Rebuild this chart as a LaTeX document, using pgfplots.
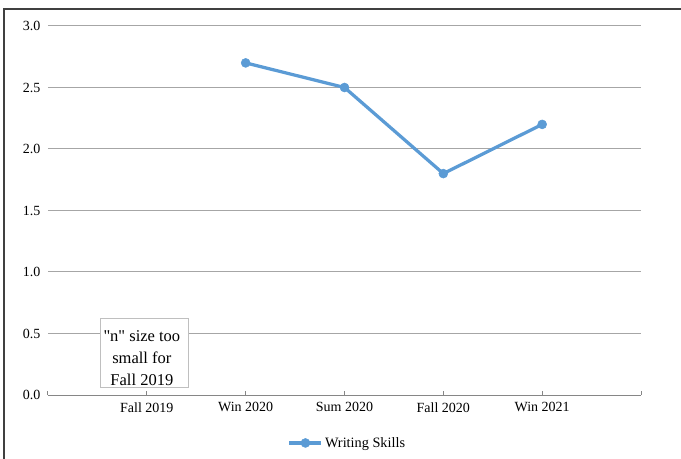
\documentclass[border=0pt]{standalone}
\usepackage{pgfplots}
\pgfplotsset{compat=1.18}
\usepackage{fontspec}
\setmainfont{Liberation Serif}
\newfontfamily\notefont{Liberation Serif}[Ligatures=TeXOff]

\definecolor{serieblue}{HTML}{5B9BD5}
\definecolor{gridgray}{HTML}{A6A6A6}
\definecolor{axisgray}{HTML}{868686}
\definecolor{framegray}{HTML}{404040}
\definecolor{boxgray}{HTML}{BFBFBF}

\begin{document}
\begin{tikzpicture}[x=1bp,y=1bp]
\begin{axis}[
  at={(48bp,64bp)}, anchor=south west,
  scale only axis, width=593bp, height=369bp,
  xmin=0, xmax=6, ymin=0, ymax=3,
  xtick={0,1,2,3,4,5,6},
  xticklabels={,Fall 2019,Win 2020,Sum 2020,Fall 2020,Win 2021,},
  ytick={0,0.5,1,1.5,2,2.5,3},
  /pgf/number format/assume math mode=true,
  /pgf/number format/fixed,
  /pgf/number format/fixed zerofill,
  /pgf/number format/precision=1,
  tick label style={font=\fontsize{14bp}{16bp}\selectfont, text=black},
  axis x line*=bottom, axis y line*=left,
  x axis line style={draw=axisgray, line width=1bp, -},
  y axis line style={draw=none},
  xtick style={draw=axisgray, line width=1bp},
  ytick style={draw=none},
  tick align=inside, major tick length=4bp,
  xticklabel style={yshift=-4bp},
  yticklabel style={xshift=-4bp},
  ymajorgrids, grid style={draw=gridgray, line width=1bp},
  legend style={at={(0.505,-0.13)}, anchor=center, draw=none, fill=none,
    font=\fontsize{14.3bp}{16bp}\selectfont, inner sep=0pt,
    legend cell align=left},
  legend image code/.code={
    \draw[mark repeat=2, mark phase=2, #1]
      plot coordinates {(0bp,0bp) (16bp,0bp) (32bp,0bp)};
  },
  clip=false,
]
\addplot[color=serieblue, line width=3.25bp, mark=*, mark size=4.5bp,
  mark options={solid, fill=serieblue, draw=serieblue, line width=0.5bp}]
  coordinates {(2,2.7) (3,2.5) (4,1.8) (5,2.2)};
\addlegendentry{Writing Skills}
\node[draw=boxgray, fill=white, line width=1bp,
  minimum width=88bp, minimum height=69bp, inner sep=0pt]
  at (axis cs:0.98,0.345) {};
\node[align=center, inner sep=0pt, yshift=-6bp, xshift=-3bp,
  font=\notefont\fontsize{16.5bp}{22bp}\selectfont]
  at (axis cs:0.98,0.345) {"n" size too\\small for\\Fall 2019};
\end{axis}
\draw[framegray, line width=1.5bp] (4bp,-20bp) -- (4bp,450bp) -- (700bp,450bp);
\pgfresetboundingbox
\useasboundingbox (0,0) rectangle (681bp,459bp);
\end{tikzpicture}
\end{document}
